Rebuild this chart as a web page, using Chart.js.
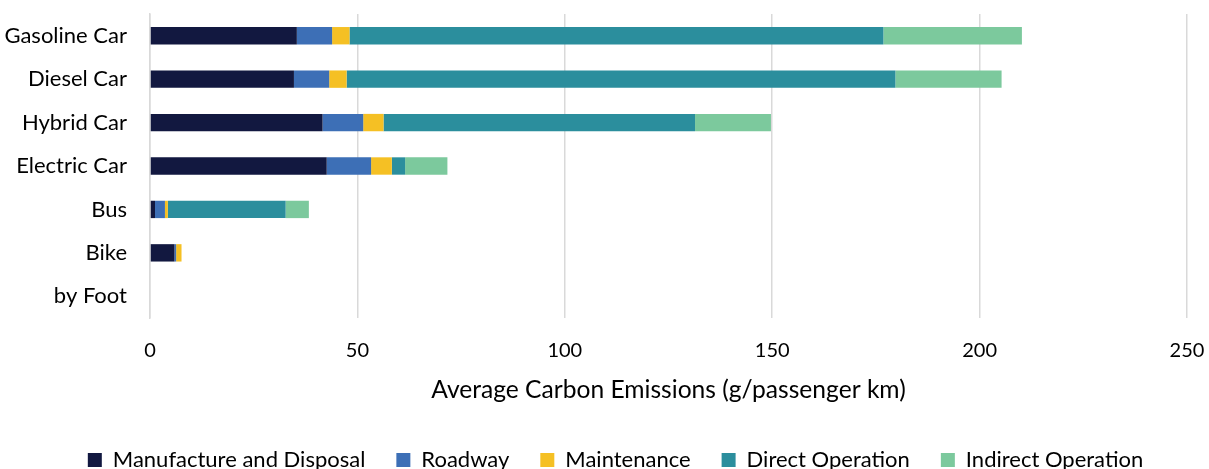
<!DOCTYPE html>
<html>
<head>
<meta charset="utf-8">
<script src="https://cdn.jsdelivr.net/npm/chart.js@4"></script>
<style>
  html, body { margin: 0; padding: 0; background: #fff; overflow: hidden; }
  #wrap { width: 1209px; height: 469px; position: relative; }
</style>
</head>
<body>
<div id="wrap"><canvas id="myChart"></canvas></div>
<script>
// DATA
const categories = ["Gasoline Car", "Diesel Car", "Hybrid Car", "Electric Car", "Bus", "Bike", "by Foot"];
const manufacture = [35.4, 34.7, 41.6, 42.6, 1.2, 5.9, 0];
const roadway = [8.5, 8.5, 9.8, 10.7, 2.4, 0.4, 0];
const maintenance = [4.2, 4.2, 4.9, 5.0, 0.7, 1.3, 0];
const directOp = [128.7, 132.3, 75.1, 3.2, 28.4, 0, 0];
const indirectOp = [33.4, 25.6, 18.3, 10.2, 5.6, 0, 0];
const xTicks = [0, 50, 100, 150, 200, 250];

const FONT = "Lato";

// legend sits centred under the whole picture, not only the plot
const legendShift = {
  id: "legendShift",
  afterLayout(chart) {
    chart.legend.left += 22;
    chart.legend.right += 22;
  },
};

const CHART = document.getElementById("myChart");

let barChart = new Chart(CHART, {
  type: "bar",
  data: {
    labels: categories,
    datasets: [
      { label: "Manufacture and Disposal", data: manufacture, backgroundColor: "#121840" },
      { label: "Roadway", data: roadway, backgroundColor: "#3d6fb6" },
      { label: "Maintenance", data: maintenance, backgroundColor: "#f5c024" },
      { label: "Direct Operation", data: directOp, backgroundColor: "#2b8e9d" },
      { label: "Indirect Operation", data: indirectOp, backgroundColor: "#7cc99d" },
    ],
  },
  options: {
    indexAxis: "y",
    responsive: true,
    maintainAspectRatio: false,
    animation: false,
    categoryPercentage: 1,
    barPercentage: 0.4,
    layout: { padding: { top: 14, right: 22, left: 0, bottom: -12 } },
    scales: {
      x: {
        stacked: true,
        min: xTicks[0],
        max: xTicks[xTicks.length - 1],
        afterBuildTicks: (axis) => {
          axis.ticks = xTicks.map((v) => ({ value: v }));
        },
        afterFit: (axis) => {
          axis.height = 100;
          axis.paddingLeft = 0;
          axis.paddingRight = 0;
        },
        grid: { color: "#d9d9d9", lineWidth: 1.5, drawTicks: false },
        border: { display: false },
        ticks: {
          color: "#000",
          font: { family: FONT, size: 20 },
          padding: 21,
        },
        title: {
          display: true,
          text: "Average Carbon Emissions (g/passenger km)",
          color: "#000",
          font: { family: FONT, size: 24.6 },
          padding: { top: 14, bottom: 13 },
        },
      },
      y: {
        stacked: true,
        afterFit: (axis) => {
          axis.width = 150;
          axis.paddingTop = 0;
          axis.paddingBottom = 0;
        },
        grid: { display: false, drawTicks: false },
        border: { display: true, color: "#d9d9d9", width: 1.5 },
        ticks: {
          color: "#000",
          font: { family: FONT, size: 22 },
          padding: 23,
        },
      },
    },
    plugins: {
      legend: {
        position: "bottom",
        labels: {
          color: "#000",
          font: { family: FONT, size: 22 },
          boxWidth: 14,
          boxHeight: 14,
          padding: 31,
        },
      },
      tooltip: { enabled: false },
    },
  },
  plugins: [legendShift],
});
</script>
</body>
</html>
